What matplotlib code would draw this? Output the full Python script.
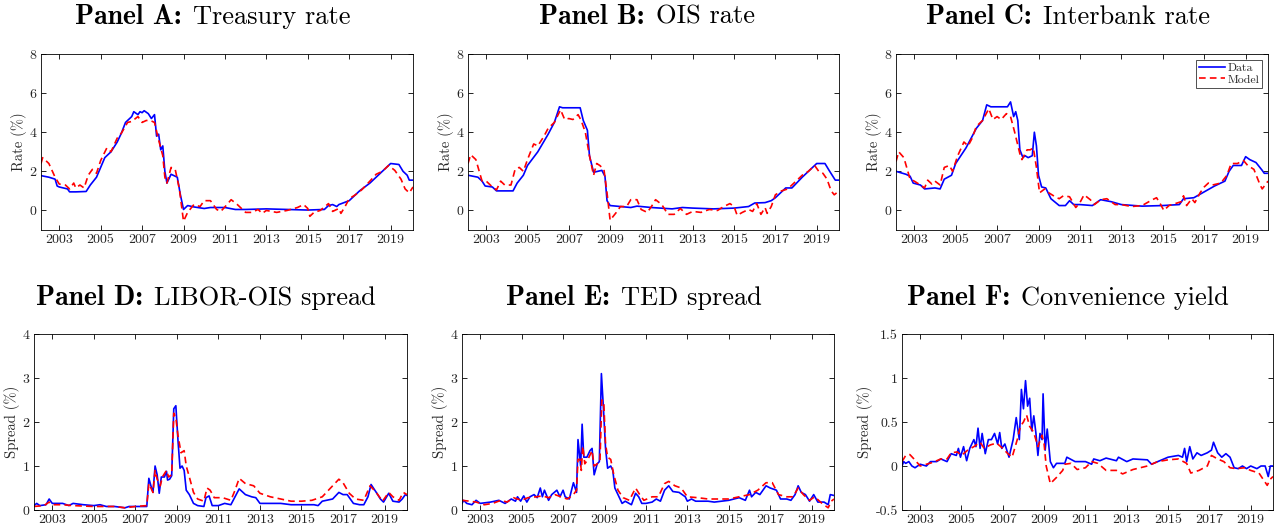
import matplotlib
matplotlib.use("Agg")
import matplotlib.pyplot as plt

plt.rcParams['font.family'] = ['cmr10', 'DejaVu Serif']
plt.rcParams['mathtext.fontset'] = 'cm'
plt.rcParams['axes.unicode_minus'] = False
plt.rcParams['axes.formatter.use_mathtext'] = True

# ---- Panel A: Treasury rate ----
a_data_t = [2002.12, 2002.5, 2002.8, 2002.9, 2003.0, 2003.4, 2003.5, 2003.8, 2004.3, 2004.5, 2004.8,
            2005.0, 2005.2, 2005.5, 2005.8, 2006.0, 2006.2, 2006.5, 2006.6, 2006.8, 2006.9, 2007.0,
            2007.1, 2007.3, 2007.45, 2007.6, 2007.7, 2007.8, 2007.9, 2008.0, 2008.1, 2008.2, 2008.4,
            2008.5, 2008.7, 2008.85, 2009.0, 2009.2, 2009.5, 2010.0, 2010.3, 2011.0, 2011.5, 2012.0,
            2013.0, 2014.0, 2015.0, 2015.8, 2016.0, 2016.2, 2016.4, 2016.5, 2017.0, 2017.3, 2017.5,
            2018.0, 2018.5, 2019.0, 2019.4, 2019.6, 2019.8, 2019.9, 2020.08]
a_data_v = [1.78, 1.7, 1.6, 1.25, 1.2, 1.1, 0.95, 0.95, 0.97, 1.3, 1.7,
            2.2, 2.7, 3.0, 3.5, 3.95, 4.5, 4.8, 5.05, 4.9, 5.05, 5.0,
            5.1, 4.95, 4.7, 4.9, 3.8, 3.9, 3.1, 3.3, 2.0, 1.4, 1.85,
            1.8, 1.7, 0.8, 0.05, 0.25, 0.18, 0.1, 0.15, 0.15, 0.05, 0.05,
            0.08, 0.05, 0.02, 0.05, 0.25, 0.3, 0.2, 0.3, 0.5, 0.8, 1.0,
            1.4, 1.9, 2.4, 2.35, 2.0, 1.8, 1.55, 1.55]
a_model_t = [2002.12, 2002.2, 2002.5, 2002.8, 2003.0, 2003.3, 2003.5, 2003.7, 2003.8, 2004.0, 2004.2,
             2004.4, 2004.6, 2004.8, 2005.0, 2005.3, 2005.5, 2005.8, 2006.0, 2006.3, 2006.5, 2006.8,
             2007.0, 2007.2, 2007.4, 2007.6, 2007.8, 2008.0, 2008.1, 2008.2, 2008.4, 2008.6, 2008.8,
             2009.0, 2009.2, 2009.5, 2009.8, 2010.0, 2010.3, 2010.6, 2010.8, 2011.1, 2011.3, 2011.6,
             2012.0, 2012.3, 2012.6, 2012.8, 2013.0, 2013.5, 2014.0, 2014.5, 2014.8, 2015.0, 2015.1,
             2015.3, 2015.6, 2016.0, 2016.2, 2016.5, 2016.6, 2016.8, 2017.0, 2017.3, 2017.6, 2018.0,
             2018.3, 2018.6, 2018.9, 2019.2, 2019.5, 2019.7, 2019.9, 2020.08]
a_model_v = [2.4, 2.7, 2.4, 1.7, 1.35, 1.3, 1.1, 1.4, 1.15, 1.3, 1.15,
             1.8, 2.1, 1.9, 2.55, 3.2, 3.0, 3.7, 3.95, 4.5, 4.55, 4.8,
             4.5, 4.6, 4.6, 4.5, 3.6, 2.8, 1.7, 1.4, 2.2, 2.1, 1.1,
             -0.55, -0.1, 0.3, 0.2, 0.5, 0.5, 0.05, -0.05, 0.3, 0.55, 0.3,
             -0.1, -0.1, 0.05, -0.15, 0.0, -0.1, 0.0, 0.15, 0.3, 0.1, -0.3,
             -0.1, 0.0, 0.35, -0.05, 0.1, -0.15, 0.2, 0.6, 0.8, 1.05, 1.5,
             1.85, 2.0, 2.3, 2.05, 1.6, 1.1, 0.9, 1.2]

# ---- Panel B: OIS rate ----
b_data_t = [2002.12, 2002.6, 2002.8, 2002.95, 2003.3, 2003.5, 2004.3, 2004.5, 2004.8, 2005.0, 2005.5,
            2006.0, 2006.3, 2006.55, 2006.7, 2007.0, 2007.55, 2007.7, 2007.9, 2008.0, 2008.2, 2008.4,
            2008.6, 2008.75, 2008.85, 2009.0, 2009.5, 2010.0, 2010.3, 2011.0, 2012.0, 2012.5, 2013.0,
            2014.0, 2015.0, 2015.7, 2016.0, 2016.5, 2016.8, 2017.0, 2017.5, 2017.8, 2018.3, 2018.6,
            2019.0, 2019.4, 2019.6, 2019.9, 2020.08]
b_data_v = [1.8, 1.7, 1.5, 1.25, 1.2, 1.0, 1.0, 1.4, 1.8, 2.3, 3.0,
            3.9, 4.5, 5.3, 5.25, 5.25, 5.25, 4.6, 4.1, 2.8, 1.95, 2.0,
            2.05, 1.75, 0.5, 0.25, 0.2, 0.15, 0.22, 0.15, 0.08, 0.15, 0.12,
            0.08, 0.12, 0.2, 0.38, 0.4, 0.5, 0.65, 1.15, 1.15, 1.7, 2.0,
            2.4, 2.4, 2.05, 1.55, 1.55]
b_model_t = [2002.12, 2002.25, 2002.5, 2002.8, 2003.0, 2003.3, 2003.5, 2003.7, 2003.9, 2004.2, 2004.4,
             2004.6, 2004.8, 2005.0, 2005.3, 2005.5, 2005.8, 2006.0, 2006.3, 2006.6, 2006.8, 2007.0,
             2007.2, 2007.45, 2007.6, 2007.8, 2008.0, 2008.2, 2008.35, 2008.5, 2008.7, 2008.85, 2009.0,
             2009.3, 2009.5, 2009.8, 2010.0, 2010.3, 2010.5, 2010.8, 2011.0, 2011.2, 2011.5, 2011.8,
             2012.1, 2012.4, 2012.7, 2013.0, 2013.4, 2013.8, 2014.2, 2014.5, 2014.8, 2015.0, 2015.15,
             2015.4, 2015.7, 2015.9, 2016.1, 2016.3, 2016.5, 2016.6, 2016.8, 2017.0, 2017.3, 2017.6,
             2018.0, 2018.3, 2018.6, 2018.9, 2019.1, 2019.3, 2019.5, 2019.7, 2019.85, 2020.08]
b_model_v = [2.4, 2.85, 2.6, 1.5, 1.5, 1.2, 1.05, 1.5, 1.3, 1.3, 2.1,
             2.2, 2.0, 2.6, 3.4, 3.3, 3.8, 4.2, 4.5, 5.15, 4.65, 4.7,
             4.65, 4.9, 4.6, 4.0, 2.8, 1.8, 2.4, 2.3, 2.1, 0.9, -0.5,
             -0.1, 0.2, 0.2, 0.55, 0.55, 0.05, -0.1, 0.2, 0.55, 0.3, -0.2,
             -0.2, 0.1, -0.2, -0.05, -0.1, 0.05, 0.0, 0.2, 0.35, 0.2, -0.25,
             -0.1, 0.05, -0.05, 0.35, -0.2, 0.15, -0.15, 0.2, 0.8, 1.0, 1.1,
             1.5, 1.8, 2.0, 2.3, 2.0, 1.9, 1.6, 1.0, 0.8, 1.0]

# ---- Panel C: Interbank rate ----
c_data_t = [2002.12, 2002.6, 2002.8, 2002.95, 2003.3, 2003.5, 2004.0, 2004.25, 2004.45, 2004.8, 2005.0,
            2005.5, 2006.0, 2006.3, 2006.5, 2006.7, 2007.0, 2007.5, 2007.65, 2007.8, 2007.9, 2008.0,
            2008.1, 2008.25, 2008.35, 2008.5, 2008.7, 2008.8, 2008.9, 2009.0, 2009.15, 2009.35, 2009.6,
            2010.0, 2010.3, 2010.5, 2010.7, 2011.0, 2011.6, 2012.0, 2012.5, 2013.0, 2014.0, 2015.0,
            2015.8, 2016.0, 2016.5, 2017.0, 2017.5, 2018.0, 2018.2, 2018.4, 2018.8, 2019.0, 2019.2,
            2019.5, 2019.8, 2019.9, 2020.08]
c_data_v = [2.0, 1.85, 1.75, 1.4, 1.3, 1.1, 1.15, 1.1, 1.6, 1.8, 2.4,
            3.2, 4.2, 4.6, 5.4, 5.3, 5.3, 5.3, 5.55, 4.8, 5.05, 4.6,
            3.1, 2.7, 2.8, 2.7, 2.8, 4.0, 3.3, 1.8, 1.2, 1.15, 0.6,
            0.25, 0.25, 0.5, 0.3, 0.3, 0.25, 0.55, 0.45, 0.3, 0.22, 0.25,
            0.3, 0.6, 0.65, 0.95, 1.25, 1.5, 2.0, 2.3, 2.3, 2.75, 2.6,
            2.45, 2.05, 1.9, 1.9]
c_model_t = [2002.12, 2002.25, 2002.5, 2002.8, 2003.0, 2003.3, 2003.5, 2003.65, 2003.85, 2004.0, 2004.25,
             2004.45, 2004.7, 2004.85, 2005.1, 2005.4, 2005.6, 2005.8, 2006.0, 2006.3, 2006.6, 2006.8,
             2007.0, 2007.2, 2007.45, 2007.65, 2007.85, 2008.1, 2008.2, 2008.45, 2008.6, 2008.75, 2008.9,
             2009.05, 2009.3, 2009.5, 2009.8, 2010.0, 2010.2, 2010.5, 2010.8, 2011.0, 2011.2, 2011.5,
             2011.7, 2012.0, 2012.3, 2012.7, 2013.0, 2013.5, 2014.0, 2014.5, 2014.7, 2014.9, 2015.05,
             2015.3, 2015.6, 2015.9, 2016.0, 2016.15, 2016.4, 2016.55, 2016.8, 2017.0, 2017.2, 2017.4,
             2017.8, 2018.1, 2018.3, 2018.6, 2018.9, 2019.1, 2019.4, 2019.7, 2019.8, 2020.08]
c_model_v = [2.5, 3.0, 2.7, 1.6, 1.5, 1.3, 1.15, 1.55, 1.35, 1.5, 1.3,
             2.2, 2.3, 2.0, 2.8, 3.5, 3.3, 3.7, 4.3, 4.6, 5.2, 4.65,
             4.8, 4.65, 4.95, 4.8, 4.0, 2.9, 2.6, 3.1, 3.1, 3.2, 2.2,
             0.9, 1.1, 0.9, 0.7, 0.6, 0.75, 0.7, 0.15, 0.4, 0.8, 0.55,
             0.3, 0.55, 0.6, 0.3, 0.3, 0.2, 0.25, 0.55, 0.65, 0.3, 0.0,
             0.25, 0.35, 0.45, 0.75, 0.25, 0.6, 0.4, 0.9, 1.2, 1.4, 1.3,
             1.4, 1.8, 2.4, 2.4, 2.55, 2.3, 2.1, 1.3, 1.1, 1.5]

# ---- Panel D: LIBOR-OIS spread ----
d_data_t = [2002.12, 2002.25, 2002.4, 2002.7, 2002.85, 2003.0, 2003.5, 2003.8, 2004.0, 2004.5, 2005.0,
            2005.3, 2005.6, 2006.0, 2006.5, 2006.7, 2007.0, 2007.55, 2007.65, 2007.75, 2007.85, 2007.95,
            2008.05, 2008.15, 2008.25, 2008.4, 2008.5, 2008.55, 2008.65, 2008.75, 2008.85, 2008.95, 2009.05,
            2009.15, 2009.25, 2009.35, 2009.45, 2009.6, 2009.8, 2010.0, 2010.3, 2010.4, 2010.55, 2010.7,
            2011.0, 2011.3, 2011.6, 2011.8, 2012.0, 2012.3, 2012.6, 2012.8, 2013.0, 2013.5, 2014.0,
            2014.5, 2015.0, 2015.6, 2015.8, 2016.0, 2016.5, 2016.8, 2017.0, 2017.2, 2017.5, 2017.8,
            2018.0, 2018.2, 2018.35, 2018.6, 2018.8, 2018.95, 2019.2, 2019.4, 2019.7, 2019.85, 2020.0, 2020.08]
d_data_v = [0.1, 0.15, 0.1, 0.12, 0.25, 0.15, 0.15, 0.1, 0.15, 0.12, 0.1,
            0.12, 0.08, 0.08, 0.05, 0.08, 0.08, 0.08, 0.72, 0.55, 0.4, 1.0,
            0.8, 0.38, 0.75, 0.75, 0.88, 0.68, 0.7, 0.78, 2.3, 2.37, 1.6,
            0.95, 1.0, 0.9, 0.45, 0.35, 0.15, 0.1, 0.08, 0.28, 0.32, 0.1,
            0.1, 0.15, 0.12, 0.3, 0.48, 0.35, 0.3, 0.28, 0.15, 0.15, 0.15,
            0.12, 0.12, 0.12, 0.1, 0.2, 0.25, 0.4, 0.35, 0.35, 0.15, 0.12,
            0.12, 0.3, 0.58, 0.4, 0.25, 0.18, 0.38, 0.2, 0.18, 0.25, 0.35, 0.33]
d_model_t = [2002.12, 2002.6, 2002.85, 2003.0, 2003.5, 2004.0, 2005.0, 2006.0, 2006.5, 2007.0, 2007.55,
             2007.65, 2007.75, 2007.85, 2007.95, 2008.05, 2008.2, 2008.3, 2008.5, 2008.6, 2008.75, 2008.85,
             2008.95, 2009.05, 2009.2, 2009.35, 2009.45, 2009.6, 2009.8, 2010.0, 2010.3, 2010.45, 2010.6,
             2010.8, 2011.2, 2011.6, 2011.8, 2012.0, 2012.3, 2012.7, 2013.0, 2013.5, 2014.0, 2014.5,
             2015.0, 2015.5, 2016.0, 2016.4, 2016.8, 2017.0, 2017.3, 2017.6, 2018.0, 2018.3, 2018.6,
             2018.9, 2019.2, 2019.4, 2019.7, 2019.9, 2020.08]
d_model_v = [0.08, 0.1, 0.18, 0.12, 0.12, 0.1, 0.08, 0.08, 0.05, 0.08, 0.1,
             0.6, 0.5, 0.4, 0.9, 0.7, 0.55, 0.75, 0.9, 0.75, 0.8, 2.2,
             2.1, 1.7, 1.3, 1.35, 1.0, 0.75, 0.4, 0.25, 0.2, 0.5, 0.45,
             0.28, 0.28, 0.22, 0.45, 0.72, 0.6, 0.55, 0.38, 0.3, 0.25, 0.2,
             0.2, 0.22, 0.3, 0.5, 0.7, 0.62, 0.38, 0.25, 0.22, 0.55, 0.4,
             0.2, 0.4, 0.3, 0.22, 0.4, 0.35]

# ---- Panel E: TED spread ----
e_data_t = [2002.12, 2002.2, 2002.35, 2002.6, 2002.8, 2003.0, 2003.5, 2003.9, 2004.2, 2004.5, 2004.7,
            2004.8, 2004.95, 2005.1, 2005.25, 2005.4, 2005.6, 2005.75, 2005.9, 2006.0, 2006.1, 2006.3,
            2006.45, 2006.7, 2006.85, 2007.0, 2007.1, 2007.3, 2007.5, 2007.65, 2007.72, 2007.85, 2007.92,
            2008.0, 2008.15, 2008.3, 2008.4, 2008.5, 2008.65, 2008.75, 2008.85, 2008.95, 2009.05, 2009.15,
            2009.3, 2009.4, 2009.5, 2009.7, 2009.85, 2010.0, 2010.3, 2010.5, 2010.65, 2010.8, 2011.0,
            2011.3, 2011.5, 2011.7, 2011.9, 2012.1, 2012.3, 2012.6, 2012.9, 2013.0, 2013.2, 2013.4,
            2014.0, 2014.3, 2015.0, 2015.5, 2015.8, 2016.0, 2016.1, 2016.3, 2016.5, 2016.8, 2017.0,
            2017.3, 2017.5, 2017.8, 2018.0, 2018.2, 2018.35, 2018.5, 2018.7, 2018.9, 2019.1, 2019.3,
            2019.6, 2019.8, 2019.9, 2020.08]
e_data_v = [0.15, 0.22, 0.15, 0.12, 0.22, 0.15, 0.18, 0.22, 0.15, 0.25, 0.2,
            0.3, 0.2, 0.32, 0.18, 0.3, 0.35, 0.28, 0.5, 0.3, 0.45, 0.22,
            0.35, 0.45, 0.3, 0.45, 0.3, 0.25, 0.62, 0.4, 1.6, 1.0, 1.95,
            1.2, 1.2, 1.35, 1.4, 0.8, 1.05, 1.1, 3.1, 2.3, 1.4, 0.95,
            1.0, 0.9, 0.5, 0.3, 0.15, 0.2, 0.12, 0.38, 0.3, 0.15, 0.15,
            0.18, 0.25, 0.2, 0.45, 0.55, 0.42, 0.4, 0.3, 0.2, 0.25, 0.2,
            0.2, 0.18, 0.22, 0.28, 0.22, 0.45, 0.3, 0.4, 0.35, 0.55, 0.5,
            0.45, 0.25, 0.25, 0.22, 0.35, 0.55, 0.4, 0.35, 0.2, 0.35, 0.18,
            0.18, 0.12, 0.35, 0.33]
e_model_t = [2002.12, 2002.5, 2002.8, 2003.2, 2003.6, 2004.0, 2004.3, 2004.6, 2005.0, 2005.3, 2005.7,
             2006.0, 2006.3, 2006.6, 2006.9, 2007.2, 2007.5, 2007.65, 2007.72, 2007.82, 2007.88, 2007.95,
             2008.05, 2008.2, 2008.4, 2008.5, 2008.65, 2008.78, 2008.87, 2008.97, 2009.05, 2009.15, 2009.3,
             2009.45, 2009.65, 2009.9, 2010.2, 2010.5, 2010.7, 2010.9, 2011.3, 2011.6, 2011.9, 2012.1,
             2012.4, 2012.7, 2013.0, 2013.5, 2014.0, 2014.5, 2015.0, 2015.5, 2016.0, 2016.4, 2016.8,
             2017.1, 2017.4, 2017.8, 2018.1, 2018.35, 2018.6, 2018.9, 2019.15, 2019.5, 2019.8, 2019.95, 2020.08]
e_model_v = [0.22, 0.2, 0.18, 0.12, 0.15, 0.22, 0.18, 0.28, 0.22, 0.28, 0.3,
             0.32, 0.28, 0.35, 0.3, 0.25, 0.35, 0.45, 1.15, 1.15, 0.9, 1.45,
             1.05, 1.15, 1.35, 1.0, 1.05, 1.1, 2.5, 2.4, 1.5, 1.2, 1.15,
             0.8, 0.45, 0.28, 0.22, 0.5, 0.35, 0.22, 0.3, 0.3, 0.6, 0.65,
             0.55, 0.5, 0.3, 0.28, 0.25, 0.25, 0.25, 0.3, 0.35, 0.45, 0.62,
             0.62, 0.35, 0.3, 0.3, 0.5, 0.35, 0.22, 0.3, 0.15, 0.05, 0.2, 0.25]

# ---- Panel F: Convenience yield ----
f_data_t = [2002.12, 2002.2, 2002.3, 2002.45, 2002.6, 2002.75, 2003.0, 2003.3, 2003.5, 2003.8, 2004.0,
            2004.3, 2004.5, 2004.75, 2004.85, 2004.95, 2005.1, 2005.25, 2005.4, 2005.6, 2005.7, 2005.8,
            2005.9, 2006.0, 2006.15, 2006.3, 2006.45, 2006.6, 2006.75, 2006.85, 2006.95, 2007.1, 2007.3,
            2007.5, 2007.65, 2007.8, 2007.9, 2008.0, 2008.1, 2008.2, 2008.3, 2008.4, 2008.5, 2008.6,
            2008.7, 2008.8, 2008.9, 2008.95, 2009.05, 2009.15, 2009.3, 2009.45, 2009.6, 2010.0, 2010.1,
            2010.5, 2011.0, 2011.3, 2011.4, 2011.7, 2012.0, 2012.5, 2012.6, 2013.0, 2013.3, 2014.0,
            2014.2, 2014.7, 2015.0, 2015.5, 2015.7, 2015.8, 2015.9, 2016.05, 2016.2, 2016.4, 2016.6,
            2016.9, 2017.1, 2017.2, 2017.4, 2017.6, 2017.8, 2018.0, 2018.2, 2018.4, 2018.6, 2018.8,
            2019.0, 2019.3, 2019.5, 2019.7, 2019.85, 2019.95, 2020.08]
f_data_v = [0.0, 0.05, 0.03, 0.05, 0.0, -0.02, 0.02, 0.0, 0.05, 0.05, 0.08,
            0.05, 0.14, 0.12, 0.2, 0.1, 0.22, 0.06, 0.2, 0.3, 0.22, 0.43,
            0.2, 0.37, 0.14, 0.3, 0.3, 0.37, 0.25, 0.38, 0.2, 0.25, 0.1,
            0.3, 0.55, 0.3, 0.87, 0.65, 0.97, 0.68, 0.77, 0.4, 0.57, 0.38,
            0.12, 0.37, 0.3, 0.82, 0.18, 0.42, 0.05, -0.02, 0.03, 0.03, 0.1,
            0.05, 0.05, 0.02, 0.08, 0.06, 0.09, 0.06, 0.1, 0.05, 0.08, 0.07,
            0.02, 0.07, 0.1, 0.12, 0.1, 0.2, 0.05, 0.22, 0.08, 0.15, 0.12,
            0.15, 0.18, 0.27, 0.15, 0.1, 0.14, 0.1, -0.02, -0.03, 0.0, -0.03,
            0.0, -0.03, 0.0, 0.0, -0.12, 0.0, 0.0]
f_model_t = [2002.12, 2002.3, 2002.5, 2002.7, 2003.0, 2003.3, 2003.6, 2004.0, 2004.3, 2004.5, 2004.8,
             2005.0, 2005.3, 2005.6, 2005.9, 2006.1, 2006.4, 2006.7, 2007.0, 2007.2, 2007.45, 2007.7,
             2007.85, 2008.0, 2008.15, 2008.3, 2008.5, 2008.7, 2008.9, 2009.0, 2009.1, 2009.3, 2009.6,
             2009.9, 2010.0, 2010.3, 2010.6, 2011.0, 2011.3, 2011.6, 2012.0, 2012.5, 2012.8, 2013.3,
             2014.0, 2014.5, 2015.0, 2015.5, 2015.9, 2016.1, 2016.5, 2016.9, 2017.1, 2017.4, 2017.7,
             2018.0, 2018.3, 2018.7, 2019.0, 2019.4, 2019.6, 2019.8, 2019.95, 2020.08]
f_model_v = [0.05, 0.12, 0.13, 0.08, 0.0, 0.02, 0.04, 0.08, 0.08, 0.15, 0.16,
             0.12, 0.18, 0.22, 0.27, 0.2, 0.24, 0.26, 0.2, 0.15, 0.1, 0.3,
             0.45, 0.5, 0.58, 0.45, 0.38, 0.22, 0.35, 0.25, 0.0, -0.2, -0.13,
             -0.05, 0.02, 0.03, -0.04, -0.02, 0.05, 0.03, -0.05, -0.05, -0.09, -0.04,
             0.0, 0.05, 0.07, 0.08, 0.03, -0.08, -0.05, 0.0, 0.12, 0.08, 0.05,
             -0.02, -0.03, -0.02, -0.05, -0.08, -0.15, -0.22, -0.15, -0.12]

panels = [
    ("A", "Treasury rate", a_data_t, a_data_v, a_model_t, a_model_v, "Rate (%)"),
    ("B", "OIS rate", b_data_t, b_data_v, b_model_t, b_model_v, "Rate (%)"),
    ("C", "Interbank rate", c_data_t, c_data_v, c_model_t, c_model_v, "Rate (%)"),
    ("D", "LIBOR-OIS spread", d_data_t, d_data_v, d_model_t, d_model_v, "Spread (%)"),
    ("E", "TED spread", e_data_t, e_data_v, e_model_t, e_model_v, "Spread (%)"),
    ("F", "Convenience yield", f_data_t, f_data_v, f_model_t, f_model_v, "Spread (%)"),
]

# axes boxes in pixels: left, top, right, bottom
boxes = [(41, 54, 413, 230), (468, 54, 839, 230), (896, 54, 1268, 230),
         (34, 334, 407, 510), (462, 334, 834, 510), (902, 334, 1273, 510)]
# title centre x and baseline y, pixels
title_pos = [(213, 24), (647, 24), (1068, 24), (206, 305), (634, 305), (1068, 305)]

ylims = [(-1, 8), (-1, 8), (-1, 8), (0, 4), (0, 4), (-0.5, 1.5)]
yticks = [[0, 2, 4, 6, 8]] * 3 + [[0, 1, 2, 3, 4]] * 2 + [[-0.5, 0, 0.5, 1, 1.5]]
yticklabels = [["0", "2", "4", "6", "8"]] * 3 + [["0", "1", "2", "3", "4"]] * 2 + \
              [["-0.5", "0", "0.5", "1", "1.5"]]
xyears = list(range(2003, 2020, 2))

W, H = 1276, 531
fig = plt.figure(figsize=(W / 100, H / 100), dpi=100)
renderer = fig.canvas.get_renderer()

for i, (letter, name, dt, dv, mt, mv, ylab) in enumerate(panels):
    l, t, r, b = boxes[i]
    ax = fig.add_axes([l / W, 1 - b / H, (r - l) / W, (b - t) / H])
    ax.plot(dt, dv, color="#0000ff", lw=1.2, label="Data")
    ax.plot(mt, mv, color="#ff0000", lw=1.2, ls=(0, (4, 2.5)), label="Model")
    ax.set_xlim(2002.12, 2020.08)
    ax.set_ylim(*ylims[i])
    ax.set_xticks(xyears)
    ax.set_xticklabels([str(y) for y in xyears])
    ax.set_yticks(yticks[i])
    ax.set_yticklabels(yticklabels[i])
    ax.tick_params(direction="in", top=True, right=True, length=3.5, width=0.6,
                   labelsize=10, labelcolor="#262626", pad=3)
    for s in ax.spines.values():
        s.set_linewidth(0.6)
    ax.set_ylabel(ylab, fontsize=10.5, color="#262626", labelpad=2)

    # title: bold "Panel X:" followed by regular name, centred as a whole
    cx, cy = title_pos[i][0] / W, 1 - title_pos[i][1] / H
    t1 = fig.text(cx, cy, "Panel " + letter + ":", family="cmb10", fontsize=20,
                  ha="left", va="baseline")
    t2 = fig.text(cx, cy, name, family="cmr10", fontsize=19,
                  ha="left", va="baseline")
    gap = 11 / W
    w1 = t1.get_window_extent(renderer).width / W
    w2 = t2.get_window_extent(renderer).width / W
    x0 = cx - (w1 + gap + w2) / 2
    t1.set_x(x0)
    t2.set_x(x0 + w1 + gap)

    if letter == "C":
        leg = ax.legend(loc="upper right", fontsize=8.5, frameon=True, fancybox=False,
                        borderpad=0.25, labelspacing=0.1, handlelength=2.2,
                        handletextpad=0.2, borderaxespad=0.5)
        leg.get_frame().set_edgecolor("black")
        leg.get_frame().set_linewidth(0.6)
        for txt in leg.get_texts():
            txt.set_color("#262626")

fig.savefig("out.png", dpi=100)
